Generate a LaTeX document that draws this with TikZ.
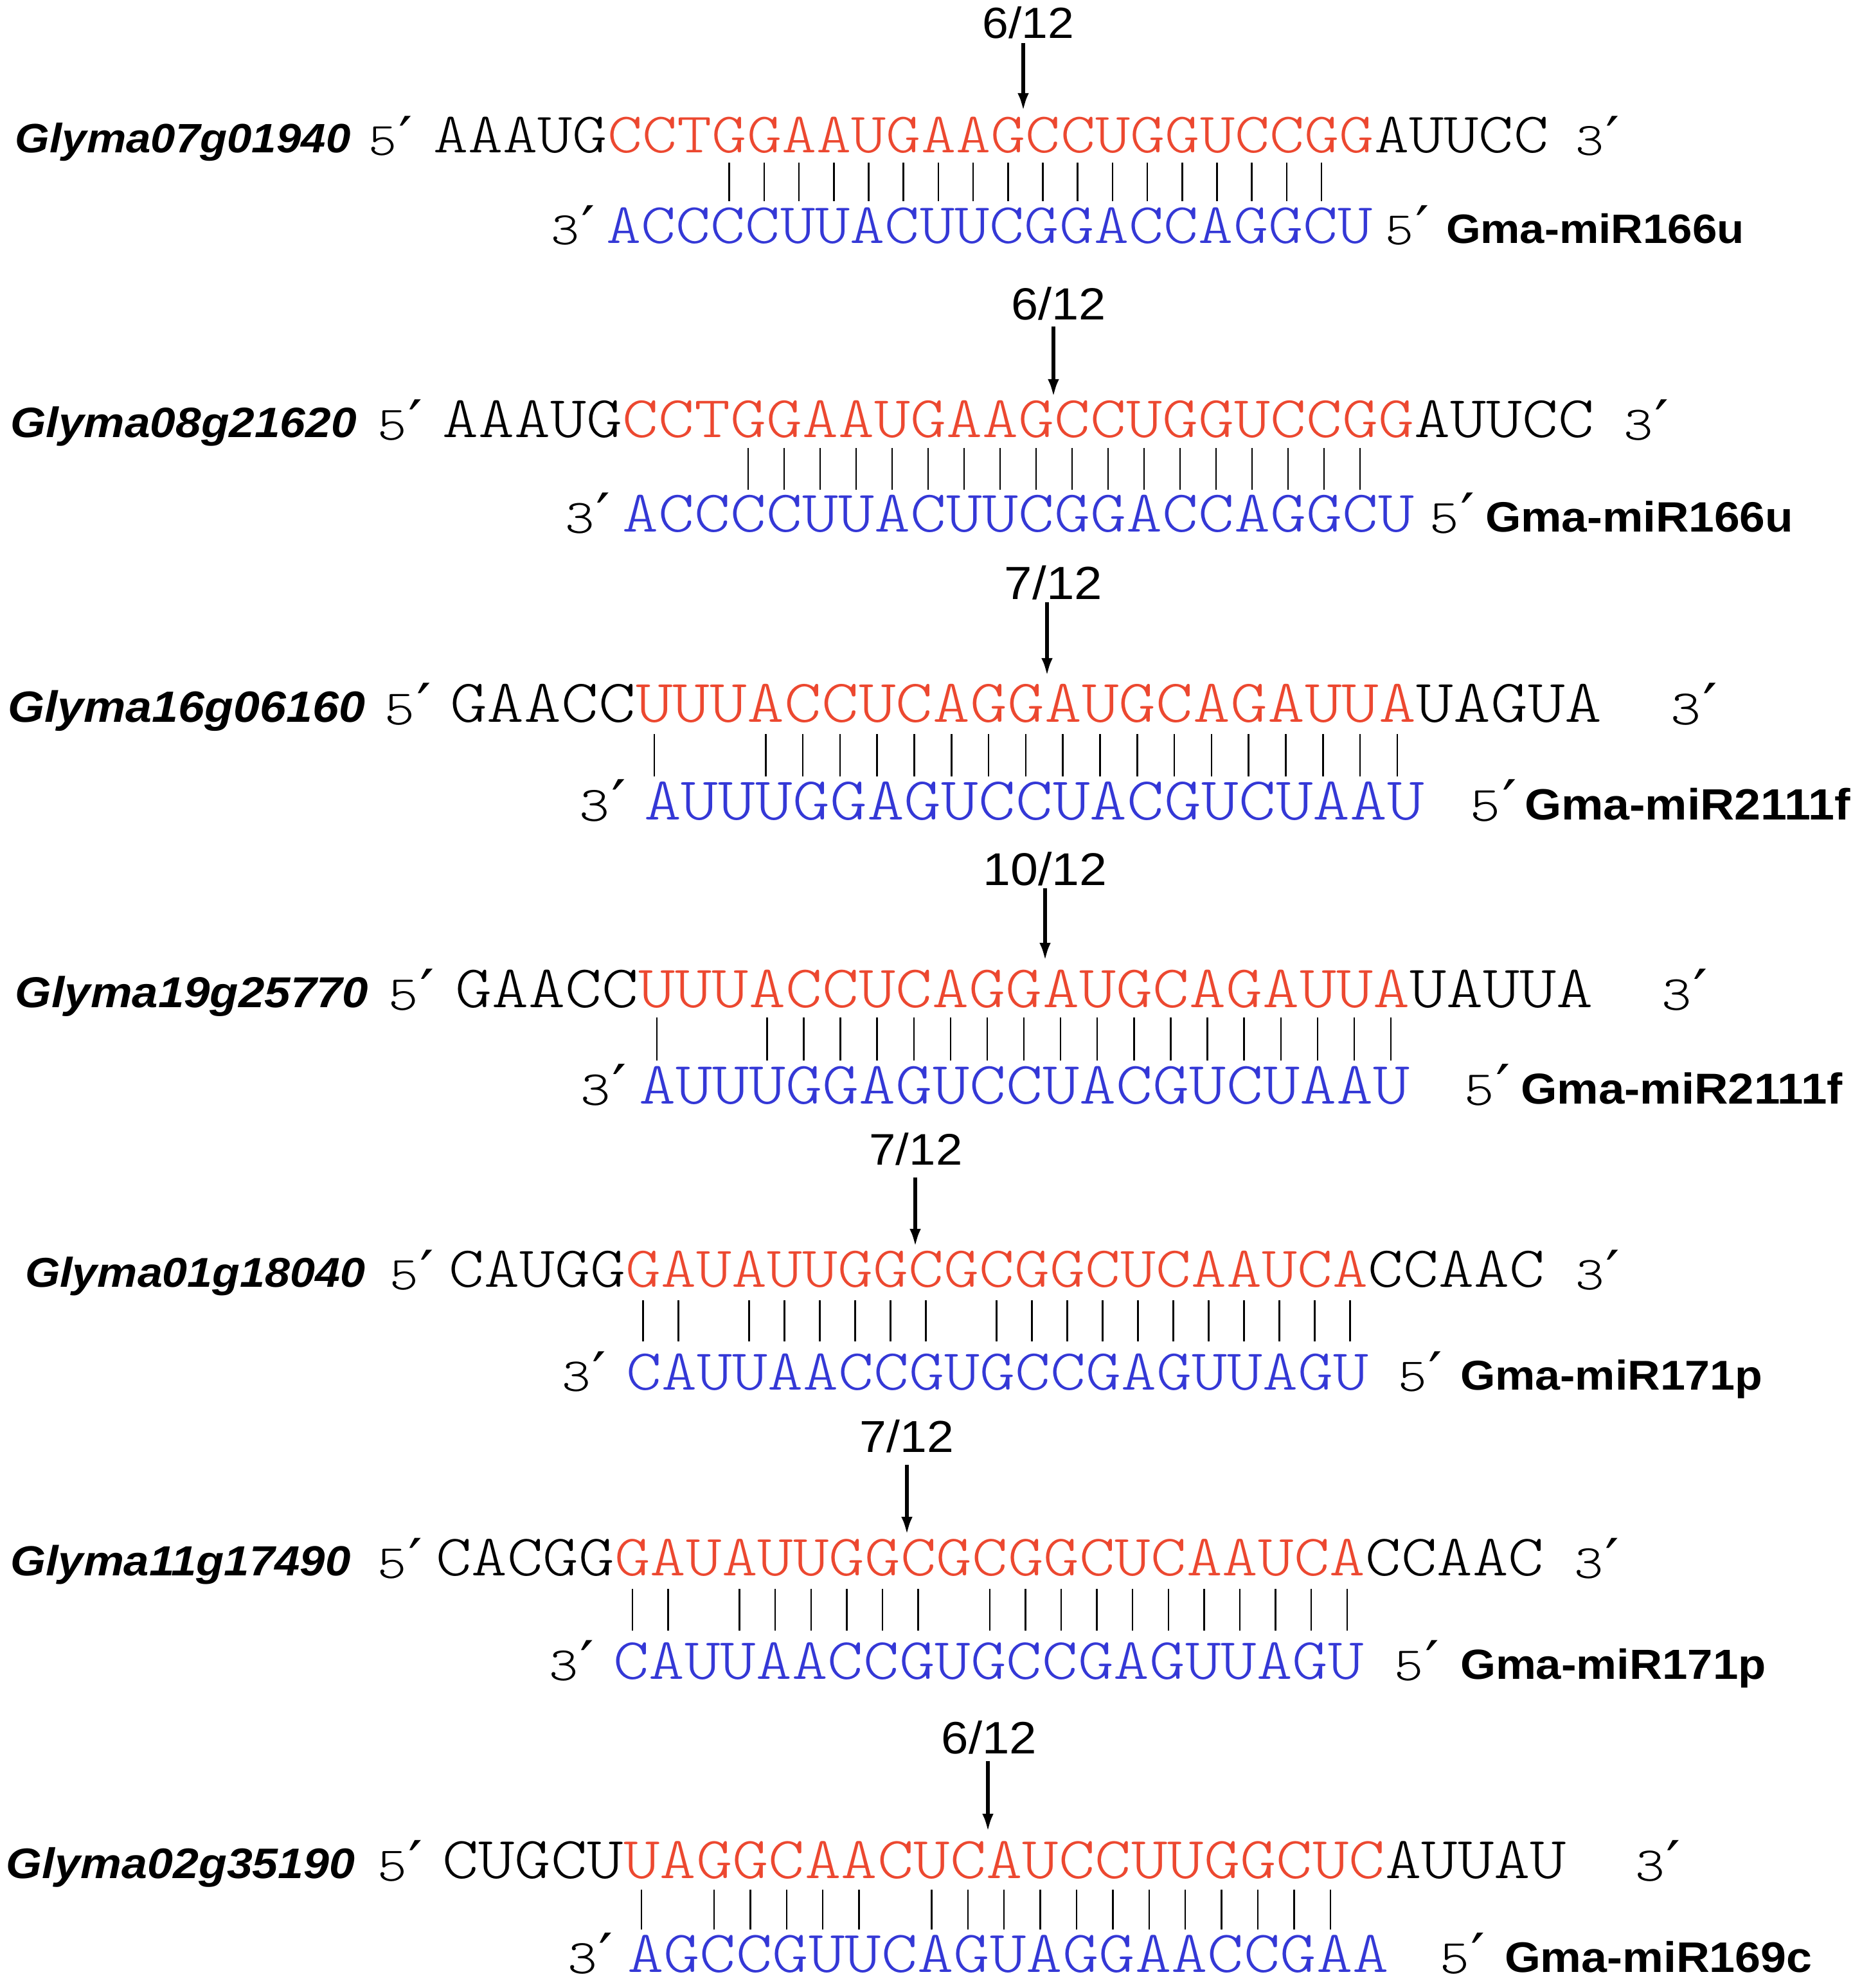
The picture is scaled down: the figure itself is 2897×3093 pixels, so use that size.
\documentclass[tikz,border=0pt]{standalone}
\usepackage{fontspec}
\usetikzlibrary{arrows.meta}
\newfontfamily\seqfont{lmmonolt10-regular}[Extension=.otf,FakeStretch=1.16]
\newfontfamily\labfont{Liberation Sans}[FakeStretch=1.08]
\newfontfamily\primefont{DejaVu Sans}
\definecolor{tred}{RGB}{236,72,48}
\definecolor{mblue}{RGB}{52,56,214}
\newcommand\pr{\hspace{0.04em}\scalebox{1.3}[1.15]{\primefont ′}}
\newcommand\drawblock{%
  \pgfmathsetmacro\Bfs{0.4672*\Bw}%
  \pgfmathsetmacro\Bfsm{0.38*\Bw}%
  \pgfmathsetmacro\Bfl{0.335*\Bw}%
  \pgfmathsetmacro\Bff{0.356*\Bw}%
  \node[txt, font={\labfont\fontsize{\Bfl}{\Bfl}\selectfont\bfseries\itshape}] (\Bid-gene) at (\Bxg,\Byt) {\Bgene};
  \node[txt, font={\seqfont\fontsize{\Bfsm}{\Bfsm}\selectfont}] (\Bid-t5) at (\Bxf,\Byt+4) {5\pr};
  \node[txt, font={\seqfont\fontsize{\Bfs}{\Bfs}\selectfont}] (\Bid-target) at (\Bxo,\Byt) {\Bfa\textcolor{tred}{\Bcore}\Bfb};
  \node[txt, font={\seqfont\fontsize{\Bfsm}{\Bfsm}\selectfont}] (\Bid-t3) at (\Bxtt,\Byt+4) {3\pr};
  \node[txt, font={\seqfont\fontsize{\Bfsm}{\Bfsm}\selectfont}] (\Bid-m3) at (\Bxmt,\Bym+2) {3\pr};
  \node[txt, text=mblue, font={\seqfont\fontsize{\Bfs}{\Bfs}\selectfont}] (\Bid-mir) at (\Bxmi,\Bym) {\Bmseq};
  \node[txt, font={\seqfont\fontsize{\Bfsm}{\Bfsm}\selectfont}] (\Bid-m5) at (\Bxmf,\Bym+2) {5\pr};
  \node[txt, font={\labfont\fontsize{\Bfl}{\Bfl}\selectfont\bfseries}] (\Bid-name) at (\Bxml,\Bym) {\Bmir};
  \node[inner sep=0pt, anchor=base, font={\labfont\fontsize{\Bff}{\Bff}\selectfont}] (\Bid-frac) at (\Bxfr,\Bfy) {\Bfr};
  \coordinate (\Bid-a1) at (\Bxa,\Bat);
  \coordinate (\Bid-a2) at (\Bxa,\Bab);
  \draw[cleave] (\Bid-a1) -- (\Bid-a2);
  \foreach \i in \Bbars {%
    \pgfmathsetmacro\bx{\Bxo+(\i+0.5)*\Bw}%
    \coordinate (\Bid-pt\i) at (\bx,\Bbt);
    \coordinate (\Bid-pb\i) at (\bx,\Bbb);
    \draw[pair] (\Bid-pt\i) -- (\Bid-pb\i);
  }%
}
\begin{document}
\begin{tikzpicture}[x=0.01cm,y=-0.01cm,
  pair/.style={line width=0.7pt},
  cleave/.style={line width=1.6pt,-{Latex[length=8pt,width=5pt]}},
  txt/.style={inner sep=0pt,outer sep=0pt,anchor=base west}]
\path[use as bounding box] (0,0) rectangle (2897,3093);
% Block 1
\def\Bid{b1}\def\Bxo{674}\def\Bw{54.2}\def\Byt{237}\def\Bym{378}\def\Bbt{253}\def\Bbb{313}
\def\Bxa{1592}\def\Bat{67}\def\Bab{173}\def\Bxfr{1600}\def\Bfy{59}\def\Bfr{6/12}
\def\Bgene{Glyma07g01940}\def\Bxg{24}\def\Bxf{573}\def\Bxtt{2451}\def\Bxmt{857}\def\Bxmi{943}\def\Bxmf{2155}\def\Bxml{2250}
\def\Bmir{Gma-miR166u}\def\Bfa{AAAUG}\def\Bcore{CCTGGAAUGAAGCCUGGUCCGG}\def\Bfb{AUUCC}
\def\Bmseq{ACCCCUUACUUCGGACCAGGCU}\def\Bbars{8,...,25}
\drawblock
% Block 2
\def\Bid{b2}\def\Bxo{688}\def\Bw{56.0}\def\Byt{680}\def\Bym{827}\def\Bbt{697}\def\Bbb{762}
\def\Bxa{1639}\def\Bat{508}\def\Bab{618}\def\Bxfr{1647}\def\Bfy{497}\def\Bfr{6/12}
\def\Bgene{Glyma08g21620}\def\Bxg{16}\def\Bxf{587}\def\Bxtt{2526}\def\Bxmt{879}\def\Bxmi{968}\def\Bxmf{2224}\def\Bxml{2311}
\def\Bmir{Gma-miR166u}\def\Bfa{AAAUG}\def\Bcore{CCTGGAAUGAAGCCUGGUCCGG}\def\Bfb{AUUCC}
\def\Bmseq{ACCCCUUACUUCGGACCAGGCU}\def\Bbars{8,...,25}
\drawblock
% Block 3
\def\Bid{b3}\def\Bxo{700}\def\Bw{57.8}\def\Byt{1123}\def\Bym{1275}\def\Bbt{1142}\def\Bbb{1208}
\def\Bxa{1629}\def\Bat{937}\def\Bab{1052}\def\Bxfr{1639}\def\Bfy{932}\def\Bfr{7/12}
\def\Bgene{Glyma16g06160}\def\Bxg{12}\def\Bxf{598}\def\Bxtt{2599}\def\Bxmt{901}\def\Bxmi{1002}\def\Bxmf{2287}\def\Bxml{2372}
\def\Bmir{Gma-miR2111f}\def\Bfa{GAACC}\def\Bcore{UUUACCUCAGGAUGCAGAUUA}\def\Bfb{UAGUA}
\def\Bmseq{AUUUGGAGUCCUACGUCUAAU}\def\Bbars{5,8,9,...,25}
\drawblock
% Block 4
\def\Bid{b4}\def\Bxo{708}\def\Bw{57.1}\def\Byt{1567}\def\Bym{1717}\def\Bbt{1583}\def\Bbb{1650}
\def\Bxa{1626}\def\Bat{1382}\def\Bab{1495}\def\Bxfr{1626}\def\Bfy{1377}\def\Bfr{10/12}
\def\Bgene{Glyma19g25770}\def\Bxg{24}\def\Bxf{604}\def\Bxtt{2585}\def\Bxmt{903}\def\Bxmi{994}\def\Bxmf{2278}\def\Bxml{2366}
\def\Bmir{Gma-miR2111f}\def\Bfa{GAACC}\def\Bcore{UUUACCUCAGGAUGCAGAUUA}\def\Bfb{UAUUA}
\def\Bmseq{AUUUGGAGUCCUACGUCUAAU}\def\Bbars{5,8,9,...,25}
\drawblock
% Block 5
\def\Bid{b5}\def\Bxo{698}\def\Bw{55.0}\def\Byt{2002}\def\Bym{2162}\def\Bbt{2023}\def\Bbb{2087}
\def\Bxa{1424}\def\Bat{1832}\def\Bab{1940}\def\Bxfr{1425}\def\Bfy{1812}\def\Bfr{7/12}
\def\Bgene{Glyma01g18040}\def\Bxg{39}\def\Bxf{606}\def\Bxtt{2451}\def\Bxmt{874}\def\Bxmi{974}\def\Bxmf{2175}\def\Bxml{2272}
\def\Bmir{Gma-miR171p}\def\Bfa{CAUGG}\def\Bcore{GAUAUUGGCGCGGCUCAAUCA}\def\Bfb{CCAAC}
\def\Bmseq{CAUUAACCGUGCCGAGUUAGU}\def\Bbars{5,6,8,9,...,13,15,16,...,25}
\drawblock
% Block 6
\def\Bid{b6}\def\Bxo{678}\def\Bw{55.6}\def\Byt{2451}\def\Bym{2612}\def\Bbt{2472}\def\Bbb{2537}
\def\Bxa{1411}\def\Bat{2279}\def\Bab{2388}\def\Bxfr{1411}\def\Bfy{2259}\def\Bfr{7/12}
\def\Bgene{Glyma11g17490}\def\Bxg{16}\def\Bxf{587}\def\Bxtt{2449}\def\Bxmt{854}\def\Bxmi{954}\def\Bxmf{2169}\def\Bxml{2272}
\def\Bmir{Gma-miR171p}\def\Bfa{CACGG}\def\Bcore{GAUAUUGGCGCGGCUCAAUCA}\def\Bfb{CCAAC}
\def\Bmseq{CAUUAACCGUGCCGAGUUAGU}\def\Bbars{5,6,8,9,...,13,15,16,...,25}
\drawblock
% Block 7
\def\Bid{b7}\def\Bxo{688}\def\Bw{56.4}\def\Byt{2922}\def\Bym{3068}\def\Bbt{2940}\def\Bbb{3002}
\def\Bxa{1537}\def\Bat{2740}\def\Bab{2850}\def\Bxfr{1539}\def\Bfy{2728}\def\Bfr{6/12}
\def\Bgene{Glyma02g35190}\def\Bxg{10}\def\Bxf{587}\def\Bxtt{2544}\def\Bxmt{883}\def\Bxmi{976}\def\Bxmf{2240}\def\Bxml{2341}
\def\Bmir{Gma-miR169c}\def\Bfa{CUGCU}\def\Bcore{UAGGCAACUCAUCCUUGGCUC}\def\Bfb{AUUAU}
\def\Bmseq{AGCCGUUCAGUAGGAACCGAA}\def\Bbars{5,7,8,...,11,13,14,...,24}
\drawblock
\end{tikzpicture}
\end{document}
